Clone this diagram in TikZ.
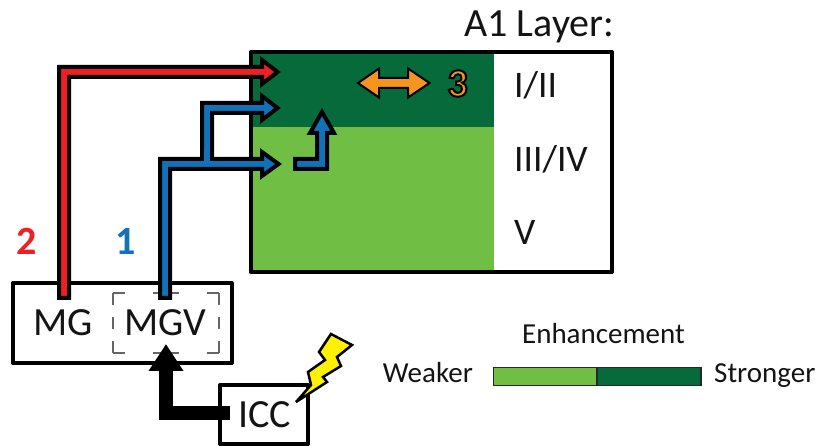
\documentclass[tikz,border=0pt]{standalone}
\usepackage{fontspec}
\setmainfont{Carlito}
\newfontfamily\outlinenum[FakeBold=5]{Carlito Bold}
\usetikzlibrary{arrows.meta}
\definecolor{dkgreen}{HTML}{066A3A}
\definecolor{ltgreen}{HTML}{70BF44}
\definecolor{myred}{HTML}{EE2024}
\definecolor{myblue}{HTML}{1172BA}
\definecolor{myorange}{HTML}{F7941E}
\definecolor{bolt}{HTML}{FFF200}
\definecolor{dashgray}{HTML}{666666}
\tikzset{
  x=1pt,y=-1pt,
  boxline/.style={draw=black,line width=4pt,line join=round},
  fatpoly/.style={draw=black,line width=4pt,miter limit=6,fill=#1},
  lab/.style={anchor=base,inner sep=0pt,font=\fontsize{40}{40}\selectfont,text=black!92},
  layerlab/.style={anchor=base west,inner sep=0pt,font=\fontsize{37.5}{37.5}\selectfont,text=black!92},
  small/.style={anchor=base,inner sep=0pt,font=\fontsize{29}{29}\selectfont,text=black!92},
  num/.style={anchor=base,inner sep=0pt,font=\fontsize{40}{40}\selectfont\bfseries},
  bracket/.style={draw=dashgray,line width=2pt},
}
\begin{document}
\begin{tikzpicture}
\useasboundingbox (0,0) rectangle (815,446);
\fill[white] (0,0) rectangle (815,446);
% A1 panel
\fill[ltgreen] (250,127) rectangle (494,272);
\fill[dkgreen] (250,52) rectangle (494,127);
\draw[boxline] (250.5,52) rectangle (612,272);
\node[lab,anchor=base east] (title) at (614.5,37) {A1 Layer:};
\node[layerlab] (l12) at (514,98) {I/II};
\node[layerlab] (l34) at (514,172) {III/IV};
\node[layerlab] (l5) at (514,245) {V};
% source boxes
\draw[boxline] (12.5,283) rectangle (231.5,363);
\draw[boxline] (220,385) rectangle (308,444);
\node[lab] (mg) at (63.5,336) {MG};
\node[lab] (mgv) at (165,336) {MGV};
\node[lab] (icc) at (264.5,428) {ICC};
% dashed corners
\draw[bracket,dash pattern=on 12pt off 28pt on 26pt off 28pt on 12pt] (113,293) -- (219,293);
\draw[bracket,dash pattern=on 12pt off 28pt on 26pt off 28pt on 12pt] (113,353) -- (219,353);
\draw[bracket,dash pattern=on 12pt off 12pt on 12pt off 12pt on 12pt] (113,293) -- (113,353);
\draw[bracket,dash pattern=on 12pt off 12pt on 12pt off 12pt on 12pt] (219,293) -- (219,353);
% red
\draw[fatpoly=myred] (59,298) -- (59,67) -- (262,67) -- (262,60) -- (277.5,72) -- (262,84) -- (262,77) -- (69,77) -- (69,298) -- cycle;
% blue branch
\draw[fatpoly=myblue] (202,164) -- (202,103) -- (262,103) -- (262,96) -- (277.5,108) -- (262,120) -- (262,113) -- (212,113) -- (212,164) -- cycle;
% blue main
\draw[fatpoly=myblue] (160,298) -- (160,159) -- (262,159) -- (262,152) -- (278.5,164) -- (262,176) -- (262,169) -- (170,169) -- (170,298) -- cycle;
\fill[myblue] (204,150) rectangle (210,163);
% elbow
\draw[fatpoly=myblue] (295,159) -- (317,159) -- (317,133) -- (310,133) -- (322,112) -- (334,133) -- (327,133) -- (327,169) -- (295,169) -- cycle;
% ICC to MGV
\draw[draw=black,line width=14pt,-{Triangle[length=27pt,width=33pt]}] (230,413) -| (166,344);
% orange double arrow
\draw[fill=myorange,draw=black,line width=2pt,miter limit=4]
  (358,83) -- (379,68.5) -- (379,78) -- (408,78) -- (408,68.5) -- (429.5,83)
  -- (408,97.5) -- (408,88) -- (379,88) -- (379,97.5) -- cycle;
\node[anchor=base,inner sep=0pt] (three) at (457.5,96.5) {\fontsize{40}{40}\outlinenum\special{pdf:bcolor [0.97 0.58 0.12] [0 0 0]}3\special{pdf:ecolor}};
\node[num,text=myred] (two) at (27,255) {2};
\node[num,text=myblue] (one) at (125.5,255) {1};
% lightning
\draw[fill=bolt,draw=black,line width=2.5pt,miter limit=6]
  (331,334) -- (352,345) -- (337,357) -- (341,366) -- (323,377) -- (327,382) -- (296,402)
  -- (311,385) -- (308,372) -- (325,360) -- (319,352) -- cycle;
% legend
\node[small] (enh) at (603.5,344) {Enhancement};
\node[small,anchor=base east] (weak) at (473,383) {Weaker};
\node[small,anchor=base west] (strong) at (714,383) {Stronger};
\filldraw[fill=ltgreen,draw=black!85,line width=1.5pt] (493.5,367.5) rectangle (597,385.5);
\filldraw[fill=dkgreen,draw=black!85,line width=1.5pt] (597,367.5) rectangle (701,385.5);
\end{tikzpicture}
\end{document}
